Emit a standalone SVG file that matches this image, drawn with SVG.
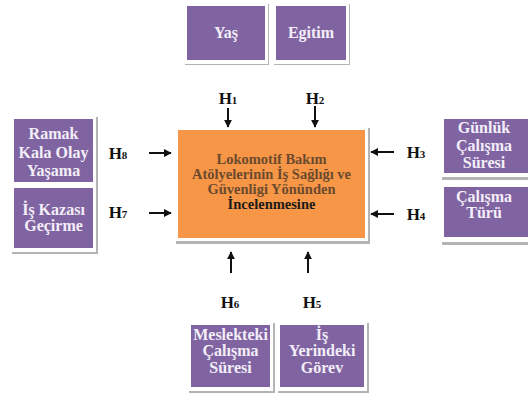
<svg xmlns="http://www.w3.org/2000/svg" width="528" height="396" viewBox="0 0 528 396">
<defs>
<style>
.sh{fill:#b4b4b4}
.fr{fill:#ffffff}
.pb{fill:#8064a2}
.pt{font-family:'Liberation Serif','Times New Roman',serif;font-weight:bold;font-size:16px;fill:#f3eef8;text-anchor:middle}
.ct{font-family:'Liberation Serif','Times New Roman',serif;font-weight:bold;font-size:14.5px;fill:#6b4a2e;text-anchor:middle}
.hl{font-family:'Liberation Serif','Times New Roman',serif;font-weight:bold;font-size:17px;fill:#111;text-anchor:middle}
.hs{font-size:11px}
.ar{stroke:#111;stroke-width:2;fill:none;marker-end:url(#ah)}
</style>
<marker id="ah" viewBox="0 0 10 10" refX="9" refY="5" markerWidth="4" markerHeight="4" orient="auto">
<path d="M0,0 L10,5 L0,10 z" fill="#111"/>
</marker>
</defs>
<rect width="528" height="396" fill="#ffffff"/>

<g id="yas">
<rect class="sh" x="185" y="4" width="84" height="61"/>
<rect class="fr" x="183" y="2" width="85" height="62"/>
<rect class="pb" x="187" y="6" width="78" height="54"/>
<text class="pt" x="226" y="38">Yaş</text>
</g>
<g id="egitim">
<rect class="sh" x="274" y="4" width="76" height="61"/>
<rect class="fr" x="272" y="2" width="77" height="62"/>
<rect class="pb" x="276" y="6" width="70" height="54"/>
<text class="pt" x="311" y="38">Egitim</text>
</g>

<g id="left-frame">
<rect class="sh" x="12" y="117" width="86" height="137"/>
<rect class="fr" x="10" y="115" width="86" height="137"/>
</g>
<g id="ramak">
<rect class="pb" x="14" y="119" width="79" height="63"/>
<text class="pt" x="53.5" y="139">Ramak</text>
<text class="pt" x="53.5" y="158">Kala Olay</text>
<text class="pt" x="53.5" y="176">Yaşama</text>
</g>
<g id="is-kazasi">
<rect class="pb" x="14" y="188" width="79" height="60"/>
<text class="pt" x="53.5" y="215">İş Kazası</text>
<text class="pt" x="53.5" y="231">Geçirme</text>
</g>

<g id="gunluk">
<rect class="sh" x="442" y="117" width="90" height="63"/>
<rect class="fr" x="440" y="115" width="90" height="62"/>
<rect class="pb" x="444" y="119" width="84" height="54"/>
<text class="pt" x="484" y="133">Günlük</text>
<text class="pt" x="484" y="151">Çalışma</text>
<text class="pt" x="484" y="168">Süresi</text>
</g>
<g id="calisma-turu">
<rect class="sh" x="442" y="185" width="90" height="60"/>
<rect class="fr" x="440" y="183" width="90" height="59"/>
<rect class="pb" x="444" y="187" width="84" height="50"/>
<text class="pt" x="484" y="202">Çalışma</text>
<text class="pt" x="484" y="218">Türü</text>
</g>

<g id="merkez">
<rect class="sh" x="176" y="128" width="194" height="116"/>
<rect class="fr" x="174" y="126" width="194" height="115"/>
<rect x="178" y="130" width="187" height="108" fill="#f79646"/>
<text class="ct" x="271.5" y="164">Lokomotif Bakım</text>
<text class="ct" x="271.5" y="179">Atölyelerinin İş Sağlığı ve</text>
<text class="ct" x="271.5" y="194">Güvenligi Yönünden</text>
<text class="ct" x="271.5" y="209" style="fill:#1a1a1a">İncelenmesine</text>
</g>

<g id="meslekteki">
<rect class="sh" x="189" y="323" width="86" height="70"/>
<rect class="fr" x="187" y="321" width="86" height="70"/>
<rect class="pb" x="191" y="325" width="79" height="62"/>
<text class="pt" x="230.5" y="340">Meslekteki</text>
<text class="pt" x="230.5" y="356">Çalışma</text>
<text class="pt" x="230.5" y="373">Süresi</text>
</g>
<g id="is-yerindeki">
<rect class="sh" x="278" y="323" width="91" height="70"/>
<rect class="fr" x="276" y="321" width="91" height="70"/>
<rect class="pb" x="280" y="325" width="84" height="62"/>
<text class="pt" x="322" y="340">İş</text>
<text class="pt" x="322" y="356">Yerindeki</text>
<text class="pt" x="322" y="373">Görev</text>
</g>

<g id="connectors">
<text class="hl" x="228" y="104">H<tspan class="hs">1</tspan></text>
<path class="ar" d="M228,108 V127"/>
<text class="hl" x="315" y="104">H<tspan class="hs">2</tspan></text>
<path class="ar" d="M315,106 V127"/>
<text class="hl" x="416" y="158">H<tspan class="hs">3</tspan></text>
<path class="ar" d="M394,152 H371"/>
<text class="hl" x="416" y="220">H<tspan class="hs">4</tspan></text>
<path class="ar" d="M394,214 H371"/>
<text class="hl" x="312" y="308">H<tspan class="hs">5</tspan></text>
<path class="ar" d="M308,273 V252"/>
<text class="hl" x="230" y="308">H<tspan class="hs">6</tspan></text>
<path class="ar" d="M231,273 V252"/>
<text class="hl" x="118" y="218">H<tspan class="hs">7</tspan></text>
<path class="ar" d="M149,213 H171"/>
<text class="hl" x="118" y="159">H<tspan class="hs">8</tspan></text>
<path class="ar" d="M149,153 H171"/>
</g>
</svg>
